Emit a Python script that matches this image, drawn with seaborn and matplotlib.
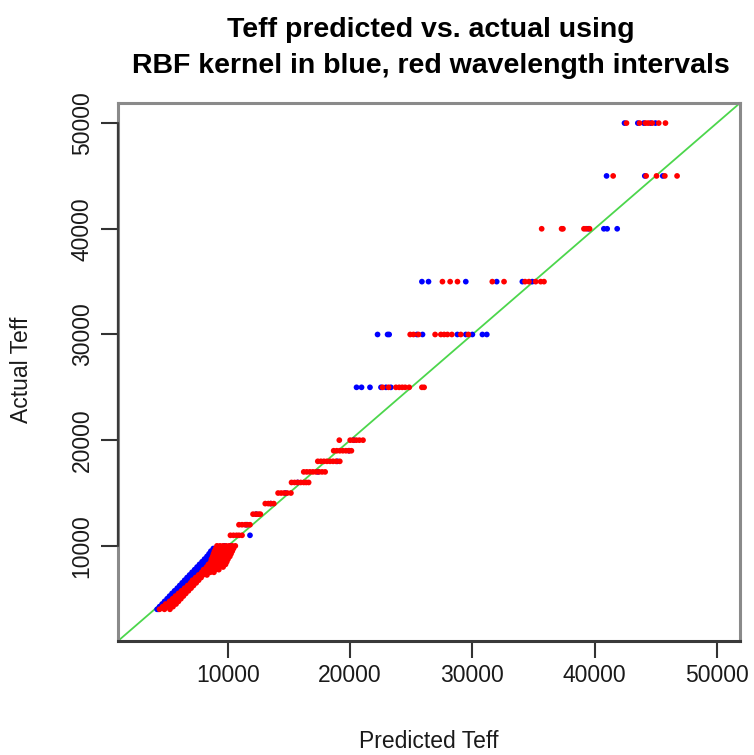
import numpy as np
import pandas as pd
import matplotlib
matplotlib.use("Agg")
import matplotlib.pyplot as plt
import seaborn as sns

# ---- data (actual Teff levels and predicted values per level) ----
levels_high = [50000, 45000, 40000, 35000, 30000, 25000, 20000, 19000, 18000,
               17000, 16000, 15000, 14000, 13000, 12000, 11000, 10000]
blue_high = [
    [42450, 43540, 44030, 44580, 44980],
    [40980, 44110, 45580],
    [39480, 40760, 41030, 41850],
    [25870, 26410, 29460, 31990, 34090, 34900],
    [22240, 23060, 23190, 25460, 25920, 28770, 29460, 30000, 30820, 31180],
    [20520, 20930, 21620, 22520, 22930, 23330],
    [20300],
    [19900],
    [18950],
    [17350],
    [15700],
    [14700],
    [13500],
    [12300],
    [11500],
    [11800],
    [9700, 10200],
]
red_high = [
    [42610, 43680, 44170, 44380, 44710, 45250, 45800],
    [41520, 44220, 45070, 45750, 46750],
    [35670, 37300, 37410, 39130, 39310, 39590],
    [27550, 28180, 28780, 31630, 32590, 34310, 34630, 35180, 35590, 35860],
    [24910, 25180, 25590, 26950, 27420, 27690, 27960, 28320, 29050, 29670],
    [22650, 23140, 23740, 24010, 24260, 24500, 24830, 25870, 26050],
    [19110, 20000, 20250, 20500, 20750, 21050],
    [18650, 18900, 19150, 19400, 19650, 19900, 20100],
    [17350, 17600, 17850, 18100, 18350, 18600, 18850, 19150],
    [16200, 16450, 16700, 16950, 17200, 17450, 17700, 17950],
    [15200, 15450, 15700, 15950, 16200, 16400, 16600],
    [14100, 14350, 14600, 14850, 15150],
    [13050, 13300, 13500, 13750],
    [12050, 12300, 12500, 12650],
    [10900, 11150, 11400, 11600, 11800],
    [10200, 10450, 10700, 10900, 11150],
    [9100, 9350, 9600, 9850, 10100, 10350, 10600],
]

levels_low = [9750, 9500, 9250, 9000, 8750, 8500, 8250, 8000, 7750, 7500, 7250, 7000,
              6750, 6500, 6250, 6000, 5750, 5500, 5250, 5000, 4750, 4500, 4250, 4000]
blue_low = [
    [8800], [8600], [8450, 8700], [8280, 8600], [8080, 8400],
    [7880, 8200, 8450], [7670, 7950, 8250], [7470, 7750, 8000],
    [7270, 7550, 7800], [7060, 7350, 7650], [6860, 7150, 7400],
    [6650, 6900, 7150], [6450, 6700, 6900], [6250, 6500, 6700],
    [6050, 6300, 6500], [5850, 6100, 6300], [5630, 5850, 6050],
    [5420, 5650, 5800], [5220, 5450], [5020, 5250], [4810, 5000],
    [4610, 4730], [4400, 4500], [4200, 4300],
]
red_low = [
    [9000, 9350, 9700, 10050, 10450],
    [8900, 9250, 9600, 10000, 10350],
    [8820, 9200, 9550, 9900, 10250],
    [8750, 9100, 9450, 9800, 10150],
    [8650, 9000, 9350, 9700, 10000],
    [8600, 8950, 9250, 9600, 9900],
    [8400, 8750, 9100, 9450, 9800],
    [8250, 8600, 8900, 9250, 9600],
    [8000, 8300, 8650, 8950, 9250],
    [7850, 8200, 8550, 8850],
    [7600, 7950, 8280],
    [7350, 7600, 7800],
    [7100, 7350, 7600],
    [6950, 7200, 7400],
    [6700, 6950, 7180],
    [6450, 6700, 6980],
    [6200, 6500, 6770],
    [5950, 6250, 6550],
    [5700, 6000, 6350],
    [5470, 5800, 6150],
    [5220, 5550, 5950],
    [4900, 5300, 5750],
    [4650, 5050, 5500],
    [4400, 4800, 5250],
]

x_ticks = [10000, 20000, 30000, 40000, 50000]
y_ticks = [10000, 20000, 30000, 40000, 50000]
axis_limits = (1000, 51900)

title_lines = ["Teff predicted vs. actual using",
               "RBF kernel in blue, red wavelength intervals"]
x_label = "Predicted Teff"
y_label = "Actual Teff"


def to_rows(levels, preds, name):
    rows = []
    for lvl, plist in zip(levels, preds):
        for p in plist:
            rows.append({"predicted": p, "actual": lvl, "model": name})
    return rows


rows = (to_rows(levels_high, blue_high, "rbf") + to_rows(levels_low, blue_low, "rbf")
        + to_rows(levels_high, red_high, "wave") + to_rows(levels_low, red_low, "wave"))
df = pd.DataFrame(rows)

sns.set_theme(style="white")
plt.rcParams["font.family"] = ["Liberation Sans", "DejaVu Sans"]

fig = plt.figure(figsize=(7.54, 7.55), dpi=100)
ax = fig.add_axes([118 / 754, 1 - 641 / 755, 622 / 754, 538 / 755])

ax.axline((axis_limits[0], axis_limits[0]), slope=1, color="#4cd64c", lw=1.3, zorder=1)

sns.scatterplot(data=df, x="predicted", y="actual", hue="model",
                palette={"rbf": "#0000ff", "wave": "#ff0000"},
                s=17, linewidth=0, legend=False, ax=ax, zorder=2)

ax.set_xlim(axis_limits)
ax.set_ylim(axis_limits)
ax.set_xticks(x_ticks)
ax.set_yticks(y_ticks)
ax.set_xticklabels([str(t) for t in x_ticks])
ax.set_yticklabels([str(t) for t in y_ticks], rotation=90, va="center")

ax.tick_params(axis="both", direction="out", length=12.5, width=1.5,
               color="#333333", labelsize=16.5, labelcolor="#1a1a1a", pad=4,
               bottom=True, left=True)
ax.tick_params(axis="y", pad=5)

for side in ["top", "right", "left", "bottom"]:
    ax.spines[side].set_visible(True)
    ax.spines[side].set_color("#8a8a8a")
    ax.spines[side].set_linewidth(2.2)
ax.spines["bottom"].set_color("#3a3a3a")

# darker axis line between first and last tick on the left axis (R style)
ax.plot([axis_limits[0], axis_limits[0]], [y_ticks[0], y_ticks[-1]],
        color="#3a3a3a", lw=1.6, clip_on=False, zorder=5)

ax.set_xlabel("")
ax.set_ylabel("")
fig.text(429 / 754, 1 - 742 / 755, x_label, ha="center", va="center",
         fontsize=16.5, color="#1a1a1a")
fig.text(22 / 754, 1 - 370 / 755, y_label, ha="center", va="center",
         rotation=90, fontsize=16.5, color="#1a1a1a")

fig.text(431 / 754, 1 - 30 / 755, title_lines[0], ha="center", va="center",
         fontsize=20.5, fontweight="bold", color="black")
fig.text(431 / 754, 1 - 66 / 755, title_lines[1], ha="center", va="center",
         fontsize=20.5, fontweight="bold", color="black")

fig.savefig("out.png", dpi=100, facecolor="white")
